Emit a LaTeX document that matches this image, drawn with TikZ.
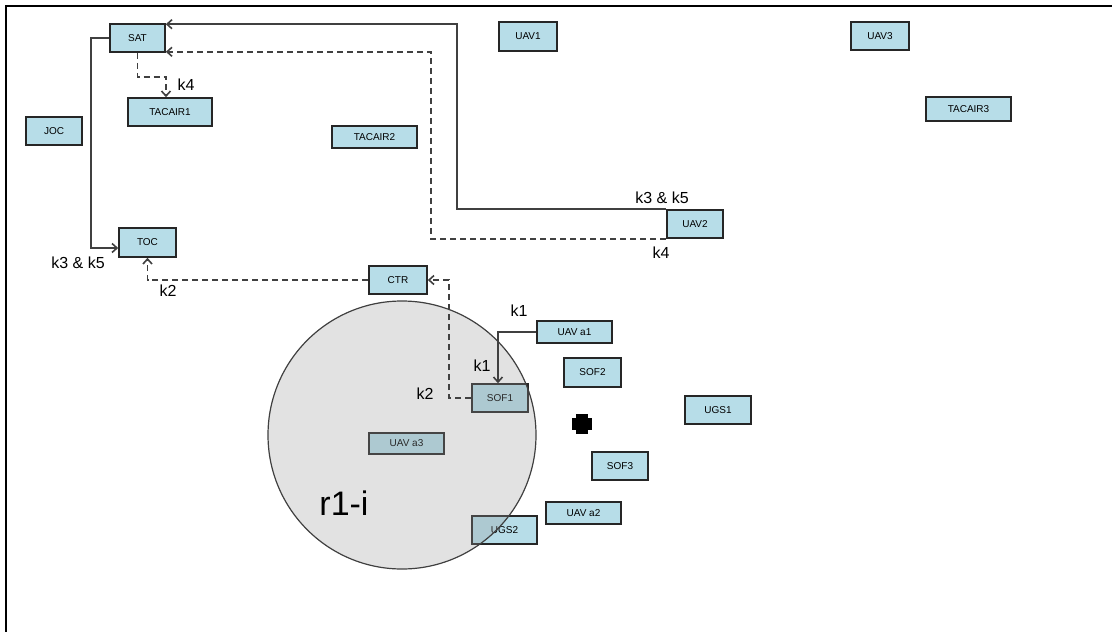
\documentclass[tikz,border=0pt]{standalone}
\usepackage{fontspec}
\setmainfont{Liberation Sans}
\usepackage{xcolor}
\usepackage{tikz}
\usetikzlibrary{arrows.meta, positioning}
\definecolor{unitblue}{RGB}{183,221,232}
\definecolor{zonegray}{RGB}{150,150,150}

\begin{document}
\begin{tikzpicture}[
    x=1pt, y=-1pt,
    >={Straight Barb[length=5pt,width=9pt]},
    unit/.style={draw=black!85, line width=1.6pt, fill=unitblue, minimum height=28pt, inner sep=0pt, font=\fontsize{10}{12}\selectfont},
    link/.style={draw=black!75, line width=1.6pt, ->},
    dlink/.style={link, dash pattern=on 6pt off 4pt},
    klabel/.style={font=\fontsize{16}{18}\selectfont}
]
\useasboundingbox (0,0) rectangle (1112,632);
\draw[line width=2.5pt] (6,632) -- (6,6) -- (1112,6);

\node[unit, minimum width=55pt] (sat) at (137.5,38) {SAT};
\node[unit, minimum width=84pt] (tacair1) at (170,112) {TACAIR1};
\node[unit, minimum width=56pt] (joc) at (54,131) {JOC};
\node[unit, minimum width=85pt, minimum height=22pt] (tacair2) at (374.5,137) {TACAIR2};
\node[unit, minimum width=58pt, minimum height=29pt] (uav1) at (528,36.5) {UAV1};
\node[unit, minimum width=58pt] (uav3) at (880,36) {UAV3};
\node[unit, minimum width=85pt, minimum height=24pt] (tacair3) at (968.5,109) {TACAIR3};
\node[unit, minimum width=56pt] (uav2) at (695,224) {UAV2};
\node[unit, minimum width=57pt, minimum height=29pt] (toc) at (147.5,242.5) {TOC};
\node[unit, minimum width=58pt] (ctr) at (398,280) {CTR};
\node[unit, minimum width=56pt] (sof1) at (500,398) {SOF1};
\node[unit, minimum width=75pt, minimum height=21pt] (uava3) at (406.5,443.5) {UAV a3};
\node[unit, minimum width=65pt] (ugs2) at (504.5,530) {UGS2};
\node[unit, minimum width=75pt, minimum height=22pt] (uava1) at (574.5,332) {UAV a1};
\node[unit, minimum width=57pt, minimum height=29pt] (sof2) at (592.5,372.5) {SOF2};
\node[unit, minimum width=66pt] (ugs1) at (718,410) {UGS1};
\node[unit, minimum width=56pt] (sof3) at (620,466) {SOF3};
\node[unit, minimum width=75pt, minimum height=22pt] (uava2) at (583.5,513) {UAV a2};

% area r1-i
\draw[draw=black!75, line width=1.2pt, fill=zonegray, fill opacity=0.28] (402,435) circle (134pt);
\node[font=\fontsize{34}{36}\selectfont] (zone) at (344,503) {r1-i};

\fill (576,414) rectangle (588,434);
\fill (572,418) rectangle (592,430);

\draw[link] (uav2.north west) -- ++(-209,0) |- ([yshift=-1pt]sat.north east);
\draw[dlink] (uav2.south west) -- ++(-235,0) |- ([yshift=1pt]sat.south east);
\draw[link] (sat.west) -- ++(-18,0) |- ([yshift=-5.5pt]toc.west);
\draw[dlink] (sat.south) -- ++(0,24) -| ([xshift=-4pt]tacair1.north);
\draw[dlink] (ctr.west) -| (toc.south);
\draw[dlink] (sof1.west) -- ++(-22,0) |- (ctr.east);
\draw[link] (uava1.west) -| ([xshift=-2pt]sof1.north);

\node[klabel] (k35a) at (662,198) {k3 \& k5};
\node[klabel] (k4a) at (661,253) {k4};
\node[klabel] (k35b) at (78,263) {k3 \& k5};
\node[klabel] (k2a) at (168,291) {k2};
\node[klabel] (k4b) at (186,85) {k4};
\node[klabel] (k2b) at (425,394) {k2};
\node[klabel] (k1a) at (519,311) {k1};
\node[klabel] (k1b) at (482,366) {k1};
\end{tikzpicture}
\end{document}
